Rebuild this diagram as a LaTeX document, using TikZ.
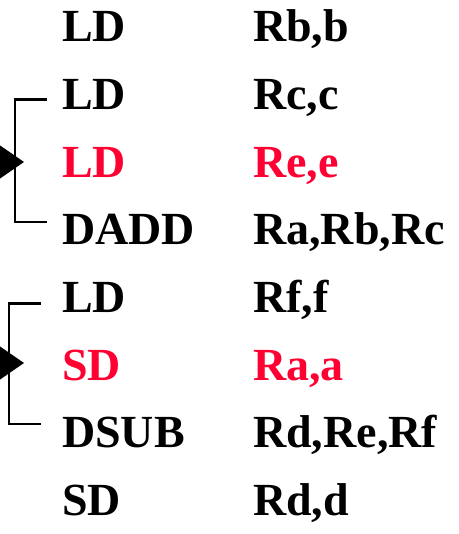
\documentclass[tikz,border=0pt]{standalone}
\usepackage{fontspec}
\setmainfont{Liberation Serif}
\usetikzlibrary{arrows.meta}
\definecolor{hazard}{RGB}{255,0,51}
\begin{document}
\begin{tikzpicture}[x=1pt,y=-1pt,line join=miter,
		font=\fontsize{46}{54}\selectfont\bfseries,
		op/.style={anchor=base west,inner sep=0pt},
		bracket/.style={line width=2.2pt},
		stall/.style={line width=2.2pt,-{Triangle[length=25pt,width=34pt]}}]
		
		\useasboundingbox (0,0) rectangle (458,534);
		\def\opx{62}
		\def\argx{253}
		\def\dy{67.6}
		% instruction column and operand column
		\node[op] (op1) at (\opx,42) {LD};
		\node[op] (arg1) at (\argx,42) {Rb,b};
		\node[op] (op2) at (\opx,42+\dy) {LD};
		\node[op] (arg2) at (\argx,42+\dy) {Rc,c};
		\node[op,text=hazard] (op3) at (\opx,42+2*\dy) {LD};
		\node[op,text=hazard] (arg3) at (\argx,42+2*\dy) {Re,e};
		\node[op] (op4) at (\opx,42+3*\dy) {DADD};
		\node[op] (arg4) at (\argx,42+3*\dy) {Ra,Rb,Rc};
		\node[op] (op5) at (\opx,42+4*\dy) {LD};
		\node[op] (arg5) at (\argx,42+4*\dy) {Rf,f};
		\node[op,text=hazard] (op6) at (\opx,42+5*\dy) {SD};
		\node[op,text=hazard] (arg6) at (\argx,42+5*\dy) {Ra,a};
		\node[op] (op7) at (\opx,42+6*\dy) {DSUB};
		\node[op] (arg7) at (\argx,42+6*\dy) {Rd,Re,Rf};
		\node[op] (op8) at (\opx,42+7*\dy) {SD};
		\node[op] (arg8) at (\argx,42+7*\dy) {Rd,d};
		% brackets
		\draw[bracket] ([shift={(-15,-10)}]op2.base west) -- ++(-32,0) |- ([shift={(-15,-23)}]op4.base west);
		\draw[bracket] ([shift={(-21,-9)}]op5.base west) -- ++(-32,0) |- ([shift={(-21,-24)}]op7.base west);
		% stall arrows
		\coordinate (in1) at (-10,162);
		\coordinate (in2) at (-10,363);
		\draw[stall] (in1) -- (24,162);
		\draw[stall] (in2) -- (24,363);
\end{tikzpicture}
\end{document}
